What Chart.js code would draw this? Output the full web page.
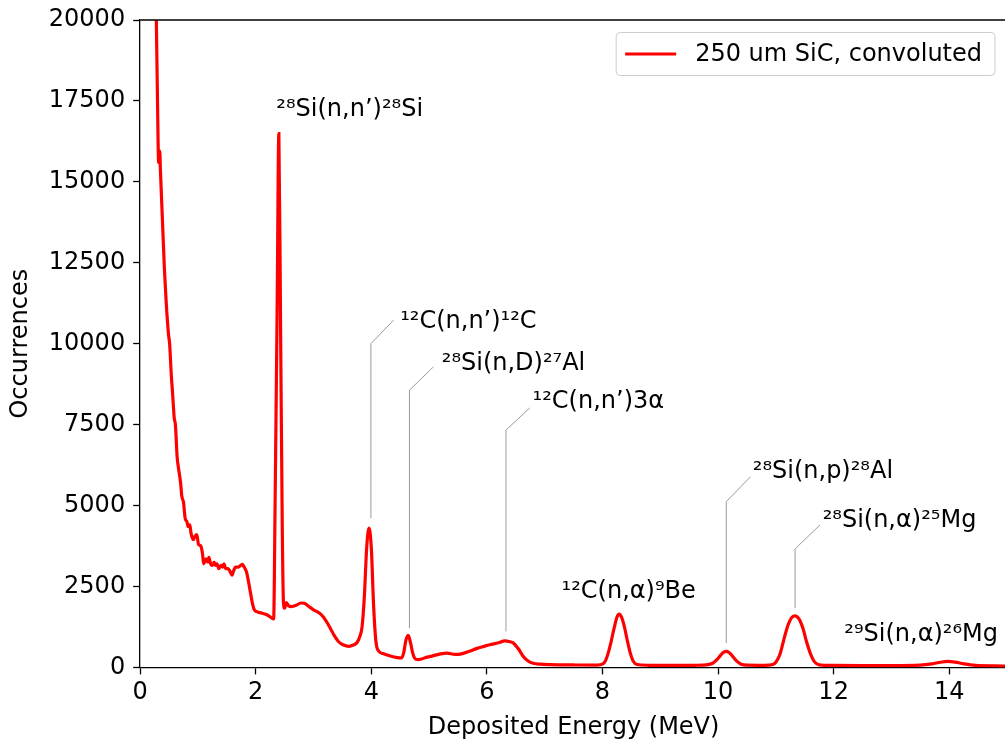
<!DOCTYPE html>
<html>
<head>
<meta charset="utf-8">
<script src="https://cdn.jsdelivr.net/npm/chart.js@4.4.1/dist/chart.umd.min.js"></script>
<style>
  html, body { margin: 0; padding: 0; background: #fff; overflow: hidden; }
  #wrap { position: relative; width: 1007px; height: 744px; }
</style>
</head>
<body>
<div id="wrap"><canvas id="spectrumChart"></canvas></div>
<script>
// Spectrum (energy in MeV, counts)
const energy = [
    0.26, 0.28, 0.31, 0.32, 0.34, 0.35, 0.38, 0.42, 0.45, 0.49,
    0.51, 0.54, 0.56, 0.59, 0.61, 0.64, 0.66, 0.70, 0.72, 0.75,
    0.78, 0.81, 0.83, 0.86, 0.88, 0.92, 0.95, 0.98, 1.01, 1.05,
    1.08, 1.10, 1.14, 1.17, 1.19, 1.22, 1.25, 1.28, 1.30, 1.33,
    1.36, 1.40, 1.43, 1.45, 1.48, 1.52, 1.56, 1.59, 1.62, 1.65,
    1.70, 1.74, 1.77, 1.80, 1.84, 1.88, 1.91, 1.94, 1.97, 2.02,
    2.10, 2.20, 2.28, 2.31, 2.335, 2.37, 2.40, 2.43, 2.46, 2.48,
    2.50, 2.53, 2.57, 2.62, 2.70, 2.78, 2.84, 2.92, 3.00, 3.10,
    3.17, 3.23, 3.29, 3.36, 3.43, 3.52, 3.61, 3.70, 3.75, 3.80,
    3.84, 3.88, 3.92, 3.96, 4.00, 4.04, 4.08, 4.13, 4.20, 4.33,
    4.45, 4.52, 4.56, 4.60, 4.64, 4.68, 4.72, 4.77, 4.82, 4.95,
    5.05, 5.20, 5.31, 5.45, 5.54, 5.70, 5.82, 5.95, 6.05, 6.20,
    6.31, 6.40, 6.46, 6.55, 6.63, 6.72, 6.80, 6.92, 7.10, 7.50,
    7.90, 8.00, 8.05, 8.10, 8.15, 8.20, 8.25, 8.29, 8.33, 8.38,
    8.43, 8.48, 8.53, 8.60, 8.80, 9.20, 9.60, 9.80, 9.90, 9.98,
    10.05, 10.10, 10.14, 10.19, 10.25, 10.32, 10.40, 10.50, 10.80, 10.95,
    11.00, 11.07, 11.13, 11.20, 11.27, 11.33, 11.40, 11.47, 11.53, 11.60,
    11.67, 11.75, 12.00, 12.50, 13.00, 13.50, 13.70, 13.85, 13.97, 14.10,
    14.25, 14.45, 14.80, 15.00
];
const counts = [
    23000, 20000, 16300, 15600, 15950, 15400, 14070, 12300, 11300, 10300,
    10000, 9000, 8500, 7700, 7500, 6500, 6200, 5700, 5300, 5100,
    4600, 4500, 4350, 4400, 4150, 3950, 4050, 4100, 3800, 3750,
    3500, 3200, 3350, 3250, 3400, 3200, 3150, 3250, 3150, 3200,
    3050, 3150, 3100, 3200, 3050, 3050, 2950, 2850, 3000, 3100,
    3100, 3150, 3180, 3100, 2950, 2600, 2300, 2000, 1800, 1720,
    1680, 1620, 1520, 1500, 5000, 11000, 16490, 10500, 4200, 2000,
    1830, 2000, 1900, 1880, 1920, 1990, 1980, 1880, 1780, 1680,
    1560, 1400, 1210, 980, 800, 690, 650, 700, 760, 950,
    1250, 2200, 3700, 4300, 3700, 1900, 800, 500, 430, 350,
    300, 290, 450, 850, 990, 750, 420, 250, 240, 310,
    350, 420, 440, 400, 410, 500, 580, 650, 700, 760,
    820, 790, 750, 560, 340, 190, 130, 100, 85, 75,
    70, 100, 200, 450, 800, 1200, 1550, 1645, 1550, 1250,
    830, 450, 200, 90, 65, 60, 65, 80, 120, 240,
    390, 470, 494, 460, 350, 200, 100, 70, 65, 90,
    160, 400, 800, 1250, 1530, 1594, 1500, 1200, 800, 420,
    170, 80, 60, 55, 55, 70, 110, 160, 185, 165,
    110, 60, 45, 40
];

const xTicks = [0, 2, 4, 6, 8, 10, 12, 14];
const yTicks = [0, 2500, 5000, 7500, 10000, 12500, 15000, 17500, 20000];

// Peak labels: text anchor (left edge, vertical centre) in data units
const peakLabels = [
    '²⁸Si(n,n’)²⁸Si', '¹²C(n,n’)¹²C', '²⁸Si(n,D)²⁷Al', '¹²C(n,n’)3α',
    '¹²C(n,α)⁹Be', '²⁸Si(n,p)²⁸Al', '²⁸Si(n,α)²⁵Mg', '²⁹Si(n,α)²⁶Mg'
];
const labelX = [2.357, 4.50, 5.219, 6.791, 7.292, 10.601, 11.810, 12.185];
const labelY = [17240, 10670, 9385, 8203, 2344, 6045, 4524, 1008];

// Leader lines (elbow from label down to peak), null = none
const leaderX = [null, [4.383, 3.993, 3.993], [5.074, 4.660, 4.660], [6.744, 6.330, 6.330],
    null, [10.561, 10.142, 10.142], [11.765, 11.333, 11.333], null];
const leaderY = [null, [10723, 10001, 4604], [9283, 8564, 1212], [8018, 7331, 1110],
    null, [5890, 5119, 749], [4401, 3661, 1829], null];

const FONT = '"DejaVu Sans", "Liberation Sans", sans-serif';
const FONT_SIZE = 24;

const annotationPlugin = {
    id: 'peakAnnotations',
    afterDatasetsDraw(chart) {
        const { ctx, chartArea, scales: { x, y } } = chart;
        ctx.save();

        // top spine
        ctx.strokeStyle = '#000';
        ctx.lineWidth = 1.3;
        ctx.beginPath();
        ctx.moveTo(chartArea.left, chartArea.top);
        ctx.lineTo(chartArea.right, chartArea.top);
        ctx.stroke();

        // leader lines
        ctx.strokeStyle = '#9a9a9a';
        ctx.lineWidth = 1;
        leaderX.forEach((xs, i) => {
            if (!xs) return;
            ctx.beginPath();
            xs.forEach((v, j) => {
                const px = x.getPixelForValue(v);
                const py = y.getPixelForValue(leaderY[i][j]);
                if (j === 0) ctx.moveTo(px, py); else ctx.lineTo(px, py);
            });
            ctx.stroke();
        });

        // labels
        ctx.fillStyle = '#000';
        ctx.font = FONT_SIZE + 'px ' + FONT;
        ctx.textAlign = 'left';
        ctx.textBaseline = 'middle';
        peakLabels.forEach((t, i) => {
            ctx.fillText(t, x.getPixelForValue(labelX[i]), y.getPixelForValue(labelY[i]));
        });

        // legend (upper right, matplotlib style)
        const ds = chart.data.datasets[0];
        const textW = ctx.measureText(ds.label).width;
        const boxW = 10 + 51 + 19 + textW + 12;
        const boxH = 43;
        const boxRight = chartArea.right - 12;
        const boxLeft = boxRight - boxW;
        const boxTop = chartArea.top + 12.5;
        ctx.fillStyle = 'rgba(255,255,255,0.8)';
        ctx.strokeStyle = '#cccccc';
        ctx.lineWidth = 1;
        ctx.beginPath();
        ctx.roundRect(boxLeft, boxTop, boxW, boxH, 4);
        ctx.fill();
        ctx.stroke();
        const midY = boxTop + boxH / 2;
        ctx.strokeStyle = ds.borderColor;
        ctx.lineWidth = ds.borderWidth;
        ctx.beginPath();
        ctx.moveTo(boxLeft + 9, midY);
        ctx.lineTo(boxLeft + 60, midY);
        ctx.stroke();
        ctx.fillStyle = '#000';
        ctx.fillText(ds.label, boxLeft + 79, midY + 1);

        ctx.restore();
    }
};

const ctx = document.getElementById('spectrumChart');
new Chart(ctx, {
    type: 'line',
    data: {
        datasets: [{
            label: '250 um SiC, convoluted',
            data: energy.map((e, i) => ({ x: e, y: counts[i] })),
            borderColor: '#ff0000',
            borderWidth: 3.2,
            pointRadius: 0,
            tension: 0,
            cubicInterpolationMode: 'monotone',
            fill: false
        }]
    },
    options: {
        responsive: true,
        maintainAspectRatio: false,
        animation: false,
        layout: { padding: { top: 17.5, right: 0, left: 6, bottom: 2 } },
        plugins: {
            legend: { display: false },
            tooltip: { enabled: false }
        },
        scales: {
            x: {
                type: 'linear',
                min: 0,
                max: 15,
                afterBuildTicks: axis => { axis.ticks = xTicks.map(v => ({ value: v })); },
                grid: { display: true, drawOnChartArea: false, drawTicks: true, tickLength: 7, tickWidth: 1.3, color: '#000' },
                border: { display: true, color: '#000', width: 1.3 },
                ticks: { color: '#000', font: { family: FONT, size: FONT_SIZE }, padding: 4, maxRotation: 0 },
                title: { display: true, text: 'Deposited Energy (MeV)', color: '#000', font: { family: FONT, size: FONT_SIZE }, padding: { top: 2, bottom: 0 } }
            },
            y: {
                type: 'linear',
                min: 0,
                max: 20000,
                afterBuildTicks: axis => { axis.ticks = yTicks.map(v => ({ value: v })); },
                grid: { display: true, drawOnChartArea: false, drawTicks: true, tickLength: 7, tickWidth: 1.3, color: '#000' },
                border: { display: true, color: '#000', width: 1.3 },
                ticks: { color: '#000', font: { family: FONT, size: FONT_SIZE, lineHeight: 1.0 }, padding: 8, callback: v => String(v) },
                title: { display: true, text: 'Occurrences', color: '#000', font: { family: FONT, size: FONT_SIZE }, padding: { top: 0, bottom: 6 } }
            }
        }
    },
    plugins: [annotationPlugin]
});
</script>
</body>
</html>
